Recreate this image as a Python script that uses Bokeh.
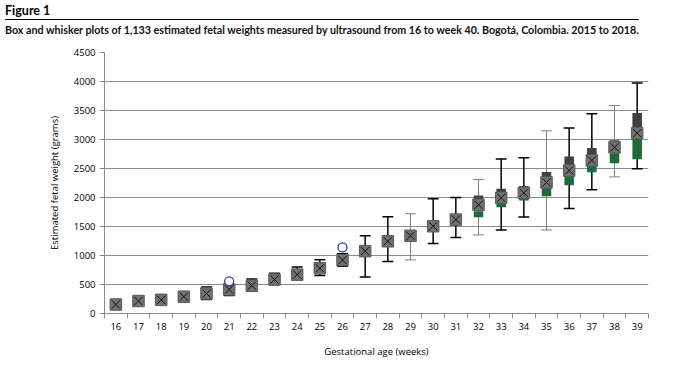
from bokeh.plotting import figure
from bokeh.models import Range1d, FixedTicker, ColumnDataSource, Div
from bokeh.layouts import column
from bokeh.embed import file_html
from bokeh.resources import INLINE

# ---- data ----
weeks   = [16, 17, 18, 19, 20, 21, 22, 23, 24, 25, 26, 27, 28, 29, 30, 31, 32, 33, 34, 35, 36, 37, 38, 39]
means   = [155, 215, 235, 290, 345, 415, 480, 585, 670, 780, 920, 1075, 1245, 1340, 1505, 1620, 1875, 1995, 2080, 2260, 2465, 2640, 2865, 3110]
q1      = [145, 205, 225, 280, 320, 390, 460, 565, 645, 750, 890, 1030, 1150, 1270, 1420, 1515, 1660, 1830, 1950, 2020, 2210, 2435, 2590, 2660]
medians = [155, 215, 235, 290, 345, 410, 480, 585, 670, 780, 920, 1075, 1230, 1330, 1490, 1600, 1760, 1900, 2000, 2160, 2370, 2560, 2760, 3000]
q3      = [165, 225, 245, 300, 370, 440, 500, 610, 695, 810, 950, 1110, 1290, 1400, 1560, 1680, 2035, 2150, 2200, 2440, 2705, 2855, 2985, 3455]
mins    = [125, 190, 210, 260, 240, 310, 385, 510, 600, 655, 815, 630, 895, 925, 1205, 1310, 1355, 1440, 1665, 1440, 1810, 2135, 2355, 2495]
maxs    = [185, 240, 260, 320, 455, 480, 595, 695, 800, 925, 1030, 1340, 1670, 1720, 1980, 2000, 2310, 2665, 2685, 3150, 3200, 3445, 3585, 3975]
outlier_weeks  = [21, 26]
outlier_values = [555, 1140]
gray_whisker_weeks = [29, 32, 35, 38]
y_ticks = [0, 500, 1000, 1500, 2000, 2500, 3000, 3500, 4000, 4500]

title_text = "Figure 1"
caption_text = ("Box and whisker plots of 1,133 estimated fetal weights measured by ultrasound "
                "from 16 to week 40. Bogotá, Colombia. 2015 to 2018.")

FONT = "Open Sans"
GRID = "#8c8c8c"

# ---- header (HTML) ----
head = Div(width=684, height=32, text=(
    '<div style="font-family:Lato;font-weight:bold;font-size:12.5px;line-height:11px;'
    'color:#000;border-bottom:1.5px solid #000;padding-bottom:3px;white-space:nowrap;">'
    + title_text + '</div>'
    '<div style="font-family:Lato;font-weight:bold;font-size:10.7px;line-height:10px;'
    'color:#111;margin-top:5px;white-space:nowrap;">' + caption_text + '</div>'))

# ---- chart ----
p = figure(width=684, height=321, x_range=Range1d(15.5, 39.5), y_range=Range1d(0, 4500),
           output_backend="svg", toolbar_location=None,
           min_border_left=104, min_border_right=36, min_border_top=10, min_border_bottom=50,
           outline_line_color=None)

wcol = ["#808080" if w in gray_whisker_weeks else "black" for w in weeks]
wwid = [1 if w in gray_whisker_weeks else 1.5 for w in weeks]
src = ColumnDataSource(dict(week=weeks, mean=means, q1=q1, med=medians, q3=q3,
                            lo=mins, hi=maxs, wcol=wcol, wwid=wwid,
                            cl=[w - 0.24 for w in weeks], cr=[w + 0.24 for w in weeks]))

p.segment(x0="week", y0="lo", x1="week", y1="hi", source=src, line_color="wcol", line_width="wwid")
p.segment(x0="cl", y0="hi", x1="cr", y1="hi", source=src, line_color="wcol", line_width="wwid")
p.segment(x0="cl", y0="lo", x1="cr", y1="lo", source=src, line_color="wcol", line_width="wwid")

p.vbar(x="week", bottom="med", top="q3", width=0.42, source=src, fill_color="#404040", line_color=None)
p.vbar(x="week", bottom="q1", top="med", width=0.42, source=src, fill_color="#1c6b38", line_color=None)

p.scatter(x="week", y="mean", source=src, marker="square", size=11.5,
          fill_color="#717171", line_color="#5a5a5a", line_width=1)
p.scatter(x="week", y="mean", source=src, marker="x", size=11.5, line_color="#111111", line_width=1)

p.scatter(x=outlier_weeks, y=outlier_values, marker="circle", size=9,
          fill_color="white", line_color="#2f3c9e", line_width=1.3)

# grid
p.xgrid.visible = False
p.ygrid.ticker = FixedTicker(ticks=y_ticks)
p.ygrid.grid_line_color = GRID
p.ygrid.grid_line_width = 1

# y axis
ya = p.yaxis[0]
ya.ticker = FixedTicker(ticks=y_ticks)
ya.axis_line_color = GRID
ya.major_tick_line_color = GRID
ya.major_tick_out = 5
ya.major_tick_in = 0
ya.minor_tick_line_color = None
ya.major_label_standoff = 4
ya.major_label_text_font = FONT
ya.major_label_text_font_size = "9.5px"
ya.major_label_text_color = "black"
ya.axis_label = "Estimated fetal weight (grams)"
ya.axis_label_text_font = FONT
ya.axis_label_text_font_size = "9.5px"
ya.axis_label_text_font_style = "normal"
ya.axis_label_text_color = "black"
ya.axis_label_standoff = 10

# x axis
xa = p.xaxis[0]
xa.ticker = FixedTicker(ticks=weeks, minor_ticks=[w - 0.5 for w in weeks] + [weeks[-1] + 0.5])
xa.axis_line_color = GRID
xa.major_tick_line_color = None
xa.major_tick_out = 0
xa.major_tick_in = 0
xa.minor_tick_line_color = GRID
xa.minor_tick_out = 5
xa.minor_tick_in = 0
xa.major_label_standoff = 4
xa.major_label_text_font = FONT
xa.major_label_text_font_size = "9.5px"
xa.major_label_text_color = "black"
xa.axis_label = "Gestational age (weeks)"
xa.axis_label_text_font = FONT
xa.axis_label_text_font_size = "9.5px"
xa.axis_label_text_font_style = "normal"
xa.axis_label_text_color = "black"
xa.axis_label_standoff = 12

layout = column(head, p, spacing=0)
open("out.html", "w").write(file_html(layout, INLINE))
